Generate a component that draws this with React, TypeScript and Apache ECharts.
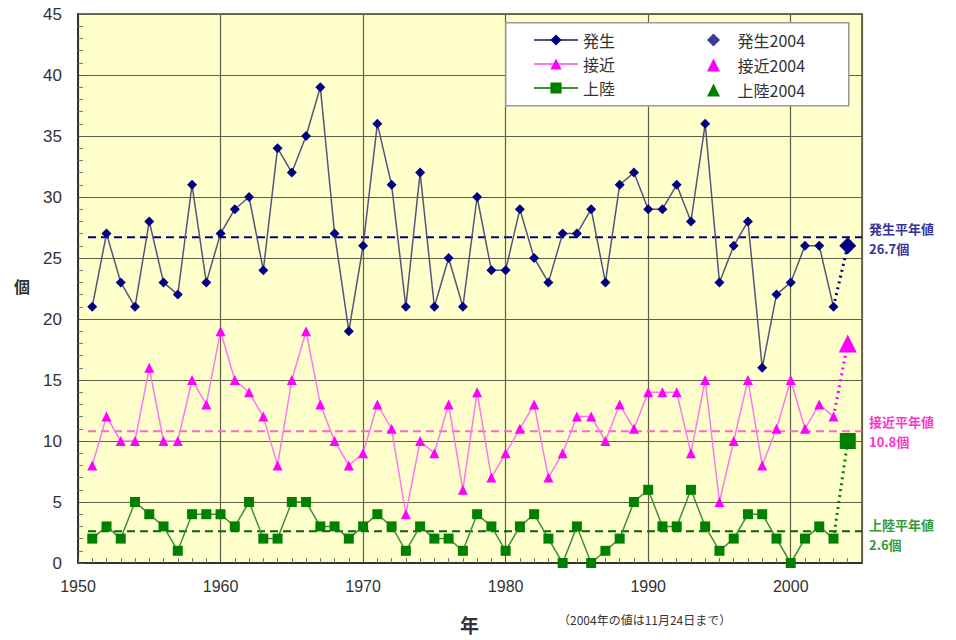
import React, { useEffect, useRef } from "react";
import * as echarts from "echarts";

const years: number[] = [
  1951, 1952, 1953, 1954, 1955, 1956, 1957, 1958, 1959, 1960,
  1961, 1962, 1963, 1964, 1965, 1966, 1967, 1968, 1969, 1970,
  1971, 1972, 1973, 1974, 1975, 1976, 1977, 1978, 1979, 1980,
  1981, 1982, 1983, 1984, 1985, 1986, 1987, 1988, 1989, 1990,
  1991, 1992, 1993, 1994, 1995, 1996, 1997, 1998, 1999, 2000,
  2001, 2002, 2003,
];
const hassei: number[] = [
  21, 27, 23, 21, 28, 23, 22, 31, 23, 27,
  29, 30, 24, 34, 32, 35, 39, 27, 19, 26,
  36, 31, 21, 32, 21, 25, 21, 30, 24, 24,
  29, 25, 23, 27, 27, 29, 23, 31, 32, 29,
  29, 31, 28, 36, 23, 26, 28, 16, 22, 23,
  26, 26, 21,
];
const sekkin: number[] = [
  8, 12, 10, 10, 16, 10, 10, 15, 13, 19,
  15, 14, 12, 8, 15, 19, 13, 10, 8, 9,
  13, 11, 4, 10, 9, 13, 6, 14, 7, 9,
  11, 13, 7, 9, 12, 12, 10, 13, 11, 14,
  14, 14, 9, 15, 5, 10, 15, 8, 11, 15,
  11, 13, 12,
];
const joriku: number[] = [
  2, 3, 2, 5, 4, 3, 1, 4, 4, 4,
  3, 5, 2, 2, 5, 5, 3, 3, 2, 3,
  4, 3, 1, 3, 2, 2, 1, 4, 3, 1,
  3, 4, 2, 0, 3, 0, 1, 2, 5, 6,
  3, 3, 6, 3, 1, 2, 4, 4, 2, 0,
  2, 3, 2,
];
const year2004 = 2004;
const hassei2004 = 26;
const sekkin2004 = 18;
const joriku2004 = 10;
const means: number[] = [26.7, 10.8, 2.6];
const meanLabels: string[] = ["発生平年値", "接近平年値", "上陸平年値"];
const meanValueLabels: string[] = ["26.7個", "10.8個", "2.6個"];
const xTicks: number[] = [1950, 1960, 1970, 1980, 1990, 2000];

const C_H = "#000080";
const C_H_LINE = "#55557a";
const C_S = "#ff00ff";
const C_S_LINE = "#ff77ee";
const C_J = "#008000";
const C_J_LINE = "#3f8f3f";

const ICON_DIAMOND = "path://M5,0L10,5L5,10L0,5Z";
const ICON_TRIANGLE = "path://M5,0L10,10L0,10Z";

export default function App() {
  const ref = useRef<HTMLDivElement>(null);
  useEffect(() => {
    if (!ref.current) return;
    const chart = echarts.init(ref.current, undefined, { renderer: "svg" });
    const pairs = (vals: number[]) => years.map((y, i) => [y, vals[i]]);
    const last = years.length - 1;
    const meanLine = (v: number, color: string) => ({
      type: "line",
      data: [[1950.7, v], [2005, v]],
      symbol: "none",
      silent: true,
      lineStyle: { color, width: 2, type: [8, 5] },
      z: 1,
    });
    const dotted = (vals: number[], v2004: number, color: string) => ({
      type: "line",
      data: [[years[last], vals[last]], [year2004, v2004]],
      symbol: "none",
      silent: true,
      lineStyle: { color, width: 3, type: [2, 4] },
      z: 2,
    });
    const textFont = "Noto Sans CJK JP";
    const option: any = {
      animation: false,
      backgroundColor: "#ffffff",
      textStyle: { fontFamily: "Liberation Sans, Arial, sans-serif" },
      grid: {
        left: 78, top: 14, right: 94, bottom: 77,
        show: true, backgroundColor: "#ffffcc", borderColor: "#444444", borderWidth: 1.5,
      },
      xAxis: {
        type: "value", min: 1950, max: 2005, interval: 10,
        axisLine: { show: true, lineStyle: { color: "#333333", width: 2 } },
        axisTick: { show: true, inside: true, length: 6, lineStyle: { color: "#555" } },
        minorTick: { show: true, splitNumber: 10, length: 5, lineStyle: { color: "#777" } },
        splitLine: { show: true, lineStyle: { color: "#5f5f45", width: 1.2 } },
        axisLabel: {
          color: "#333", fontSize: 16, margin: 15, showMaxLabel: false,
          formatter: (v: number) => (xTicks.includes(v) ? String(v) : ""),
        },
      },
      yAxis: {
        type: "value", min: 0, max: 45, interval: 5,
        axisLine: { show: true, lineStyle: { color: "#333333", width: 2 } },
        axisTick: { show: true, inside: true, length: 6, lineStyle: { color: "#555" } },
        minorTick: { show: true, splitNumber: 5, length: 5, lineStyle: { color: "#777" } },
        splitLine: { show: true, lineStyle: { color: "#5f5f45", width: 1.2 } },
        axisLabel: { color: "#333", fontSize: 17, margin: 16 },
      },
      legend: [
        {
          left: 528, top: 27, orient: "vertical", itemGap: 8, itemWidth: 44, itemHeight: 14,
          textStyle: { fontSize: 16, color: "#333", fontFamily: textFont },
          data: ["発生", "接近", "上陸"],
          selectedMode: false, z: 5,
        },
        {
          left: 702, top: 27, orient: "vertical", itemGap: 9, itemWidth: 38, itemHeight: 13,
          symbolKeepAspect: true,
          textStyle: { fontSize: 16, color: "#333", fontFamily: textFont },
          data: [
            { name: "発生2004", icon: ICON_DIAMOND, itemStyle: { color: "#3a3a99", opacity: 1 } },
            { name: "接近2004", icon: ICON_TRIANGLE, itemStyle: { opacity: 1 } },
            { name: "上陸2004", icon: ICON_TRIANGLE, itemStyle: { opacity: 1 } },
          ],
          selectedMode: false, z: 5,
        },
      ],
      graphic: [
        {
          type: "rect", left: 505, top: 22, z: 3,
          shape: { width: 343, height: 83 },
          style: { fill: "#ffffff", stroke: "#999999", lineWidth: 1.5 },
        },
        ...meanLabels.flatMap((t, i) => {
          const tops = [222, 415, 518];
          const cols = ["#333399", "#ff33cc", "#339933"];
          return [
            { type: "text", left: 869, top: tops[i], style: { text: t, fill: cols[i], fontSize: 13, fontWeight: "bold", fontFamily: textFont } },
            { type: "text", left: 869, top: tops[i] + 20, style: { text: meanValueLabels[i], fill: cols[i], fontSize: 13, fontWeight: "bold", fontFamily: textFont } },
          ];
        }),
        { type: "text", left: 14, top: 278, style: { text: "個", fill: "#333", fontSize: 16, fontWeight: "bold", fontFamily: textFont } },
        { type: "text", left: 460, top: 615, style: { text: "年", fill: "#333", fontSize: 19, fontWeight: "bold", fontFamily: textFont } },
        { type: "text", left: 558, top: 613, style: { text: "（2004年の値は11月24日まで）", fill: "#333", fontSize: 12, fontFamily: textFont } },
      ],
      series: [
        meanLine(means[0], C_H),
        meanLine(means[1], "#ff66cc"),
        meanLine(means[2], "#006600"),
        dotted(hassei, hassei2004, C_H),
        dotted(sekkin, sekkin2004, C_S),
        dotted(joriku, joriku2004, C_J),
        {
          name: "発生", type: "line", data: pairs(hassei), symbol: "diamond", symbolSize: 10,
          lineStyle: { color: C_H_LINE, width: 1.5 }, itemStyle: { color: C_H }, z: 4,
        },
        {
          name: "接近", type: "line", data: pairs(sekkin), symbol: "triangle", symbolSize: 10,
          lineStyle: { color: C_S_LINE, width: 1.5 }, itemStyle: { color: C_S }, z: 4,
        },
        {
          name: "上陸", type: "line", data: pairs(joriku), symbol: "rect", symbolSize: 10,
          lineStyle: { color: C_J_LINE, width: 1.5 }, itemStyle: { color: C_J }, z: 4,
        },
        {
          name: "発生2004", type: "scatter", data: [[year2004, hassei2004]], symbol: "diamond", symbolSize: 17,
          itemStyle: { color: C_H, opacity: 1 }, z: 5,
        },
        {
          name: "接近2004", type: "scatter", data: [[year2004, sekkin2004]], symbol: "triangle", symbolSize: 18,
          itemStyle: { color: C_S, opacity: 1 }, z: 5,
        },
        {
          name: "上陸2004", type: "scatter", data: [[year2004, joriku2004]], symbol: "rect", symbolSize: 16,
          itemStyle: { color: C_J, opacity: 1 }, z: 5,
        },
      ],
    };
    chart.setOption(option);
    return () => chart.dispose();
  }, []);
  return (
    <div
      ref={ref}
      style={{ position: "fixed", left: 0, top: 0, width: 956, height: 640, background: "#fff" }}
    />
  );
}
